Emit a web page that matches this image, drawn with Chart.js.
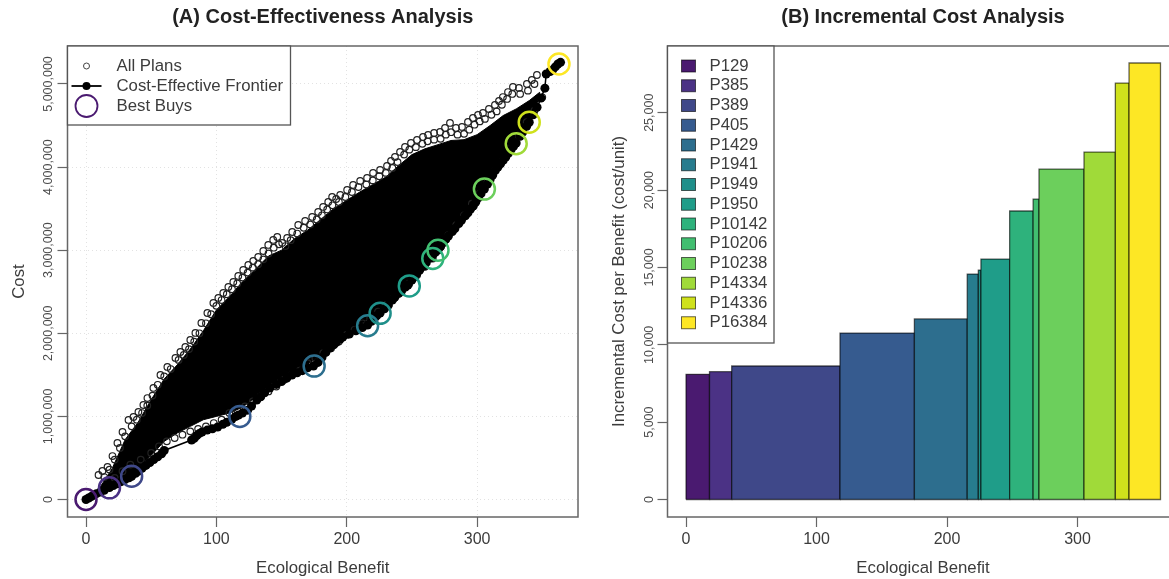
<!DOCTYPE html>
<html>
<head>
<meta charset="utf-8">
<title>Cost-Effectiveness and Incremental Cost Analysis</title>
<script src="https://cdn.jsdelivr.net/npm/chart.js@4"></script>
<style>
    html, body { margin: 0; padding: 0; background: #fff; overflow: hidden; }
    body { width: 1169px; height: 579px; position: relative; }
    canvas { position: absolute; top: 0; }
    #chartA { left: 0; }
    #chartB { left: 600px; }
</style>
</head>
<body>
<canvas id="chartA" width="616" height="579"></canvas>
<canvas id="chartB" width="646" height="579"></canvas>
<script>
// Noms des plans (legende B)
const planNames = ["P129", "P385", "P389", "P405", "P1429", "P1941", "P1949", "P1950", "P10142", "P10206", "P10238", "P14334", "P14336", "P16384"];
const planColors = ["#4a1a70", "#4b3285", "#3f4889", "#365b8f", "#2d6e8e", "#277c8e", "#1f8f8a", "#1f9d89", "#2eb27c", "#41be70", "#6ccf5c", "#a0da39", "#cfe11c", "#fde725"];

// Best buys (graphique A)
const bestBenefit = [0, 18, 35, 118, 175, 216, 225.6, 248, 266, 270, 305.6, 330, 340, 362.8];
const bestCost = [0, 140000, 280000, 1000000, 1605000, 2090000, 2240000, 2570000, 2900000, 3000000, 3735000, 4280000, 4540000, 5240000];

// Frontiere cout-efficace
const frontierBenefit = [0, 2, 4, 6, 8, 11, 14, 18, 21, 24, 27, 30, 33, 35, 38, 40, 43, 46, 49, 52, 55, 58, 60, 81, 83, 85, 87, 89, 93, 97, 101, 105, 108, 112, 115, 117, 120, 124, 127, 131, 134, 137, 141, 146, 150, 154, 158, 162, 166, 170, 174.5, 178, 181, 184, 187, 190, 192, 195, 197, 202, 207, 212, 216, 219, 221, 223, 225.6, 229, 232, 235, 237, 240, 242, 245, 247, 250, 252, 254, 256, 259, 261, 264, 266, 268, 270, 272, 274, 276, 278, 281, 283, 286, 288, 291, 293, 295, 297, 299, 301, 303, 305.6, 308, 310, 312, 314, 316, 318, 320, 322, 324, 326, 328, 330, 333, 335, 338, 340, 343, 346, 349, 352, 353, 356, 358, 360, 362, 364];
const frontierCost = [0, 18000, 35000, 52000, 70000, 90000, 110000, 145000, 168000, 190000, 215000, 240000, 262000, 280000, 315000, 340000, 375000, 410000, 445000, 480000, 515000, 550000, 590000, 716000, 735000, 770000, 795000, 812000, 835000, 852000, 872000, 905000, 930000, 968000, 1000000, 1017000, 1040000, 1075000, 1125000, 1197000, 1235000, 1285000, 1342000, 1385000, 1420000, 1460000, 1498000, 1525000, 1550000, 1585000, 1606000, 1650000, 1710000, 1770000, 1823000, 1860000, 1890000, 1930000, 1955000, 1990000, 2030000, 2070000, 2100000, 2145000, 2170000, 2210000, 2244000, 2295000, 2340000, 2400000, 2437000, 2480000, 2510000, 2555000, 2581000, 2640000, 2680000, 2725000, 2762000, 2810000, 2850000, 2905000, 2942000, 2975000, 3000000, 3045000, 3090000, 3130000, 3170000, 3225000, 3260000, 3320000, 3360000, 3415000, 3450000, 3495000, 3530000, 3580000, 3630000, 3680000, 3735000, 3795000, 3850000, 3905000, 3960000, 4000000, 4040000, 4080000, 4120000, 4165000, 4210000, 4250000, 4290000, 4370000, 4420000, 4490000, 4540000, 4630000, 4720000, 4830000, 4950000, 5120000, 5150000, 5170000, 5205000, 5240000, 5260000];

// Tous les plans : seuls les bords du nuage sont lisibles sur l'image
const planBenefit = [
    9.6, 12.6, 16.5, 20.3, 24.1, 28, 32.6, 36.4, 40.2, 44, 47.1, 51.7, 57.1, 62.4, 68.6, 72.4, 76.2, 80, 83.9, 88.5, 93.1, 97.7, 101.5, 105.3, 109.2, 113, 116.8, 120.6, 124.5, 128.3, 132.1, 136, 139.8, 143.6, 146.7, 150.5, 154.3, 158.2, 162.8, 168.1, 173.5, 178.1, 181.9, 185.8, 188.8, 191.9, 195, 200.3, 204.9, 210.3, 215.6, 220.2, 225.6, 230.9, 234, 237, 240.9, 244.7, 249.3, 253.9, 258.5, 262.4, 267, 271.6, 275.4, 279.2, 283.8, 288.4, 293, 296.8, 300.7, 304.5, 309.1, 313.7, 316.8, 319.8, 323.7, 327.5, 332.1, 338.2, 342, 345.9,
    14, 18, 22, 26, 30, 35, 39, 43, 47, 51, 55, 60, 65, 71, 75, 79, 83, 87, 92, 96, 100, 104, 108, 112, 116, 120, 124, 128, 132, 136, 140, 144, 148, 153, 157, 162, 167, 172, 177, 181, 185, 189, 194, 199, 204, 209, 215, 220, 225, 230, 235, 239, 244, 248, 253, 258, 262, 267, 272, 276, 280, 285, 290, 294, 298, 302, 306, 311, 315, 319, 323, 327, 333, 339, 344,
    22, 28, 34, 42, 50, 56, 62, 68, 74, 80, 86, 92, 98, 104, 110, 116, 122, 128, 134, 140, 146, 152, 158, 164, 170, 176, 182, 188, 194, 200, 206, 212, 218, 224, 230, 236, 242, 248, 254, 260, 266, 272, 278, 284, 290, 296, 302, 308, 314, 320, 326, 332, 338, 344, 350
];
const planCost = [
    295000, 343000, 391000, 523000, 680000, 812000, 957000, 993000, 1053000, 1137000, 1221000, 1342000, 1498000, 1595000, 1703000, 1775000, 1835000, 1919000, 2004000, 2124000, 2244000, 2365000, 2425000, 2485000, 2557000, 2617000, 2690000, 2762000, 2822000, 2870000, 2918000, 2990000, 3063000, 3123000, 3159000, 3087000, 3147000, 3219000, 3303000, 3351000, 3400000, 3460000, 3520000, 3580000, 3640000, 3616000, 3664000, 3724000, 3785000, 3833000, 3869000, 3929000, 3965000, 4013000, 4074000, 4122000, 4182000, 4242000, 4290000, 4326000, 4362000, 4386000, 4411000, 4423000, 4471000, 4531000, 4471000, 4483000, 4543000, 4591000, 4627000, 4651000, 4699000, 4747000, 4795000, 4843000, 4903000, 4964000, 4952000, 5000000, 5048000, 5108000,
    270000, 360000, 480000, 620000, 760000, 880000, 960000, 1040000, 1130000, 1250000, 1380000, 1480000, 1570000, 1680000, 1740000, 1810000, 1900000, 2000000, 2120000, 2230000, 2330000, 2400000, 2470000, 2530000, 2600000, 2670000, 2730000, 2790000, 2830000, 2890000, 2960000, 3030000, 3070000, 3050000, 3120000, 3200000, 3270000, 3310000, 3370000, 3420000, 3490000, 3540000, 3580000, 3640000, 3700000, 3760000, 3790000, 3840000, 3890000, 3930000, 3990000, 4060000, 4150000, 4210000, 4240000, 4280000, 4310000, 4330000, 4340000, 4390000, 4420000, 4390000, 4400000, 4450000, 4510000, 4550000, 4580000, 4630000, 4670000, 4750000, 4820000, 4880000, 4880000, 4920000, 5000000,
    260000, 340000, 420000, 480000, 560000, 640000, 700000, 740000, 780000, 820000, 850000, 880000, 920000, 960000, 1040000, 1080000, 1120000, 1180000, 1240000, 1300000, 1360000, 1440000, 1500000, 1550000, 1640000, 1700000, 1760000, 1820000, 1900000, 1980000, 2040000, 2120000, 2180000, 2260000, 2340000, 2420000, 2500000, 2600000, 2700000, 2800000, 2900000, 3040000, 3180000, 3300000, 3420000, 3560000, 3680000, 3820000, 3960000, 4080000, 4220000, 4380000, 4540000, 4680000, 4840000
];

// Coeur noir du nuage (contour estime)
const coreBenefit = [10, 20, 30, 40, 50, 60, 70, 80, 90, 100, 110, 120, 130, 140, 150, 160, 170, 180, 190, 200, 210, 220, 230, 240, 250, 260, 270, 280, 290, 300, 310, 320, 330, 340, 348, 345, 340, 330, 320, 310, 300, 290, 280, 270, 260, 250, 240, 230, 220, 210, 200, 190, 180, 170, 160, 150, 140, 130, 120, 110, 100, 90, 80, 70, 60, 50, 40, 30, 20];
const coreCost = [130000, 370000, 720000, 930000, 1200000, 1450000, 1620000, 1810000, 2030000, 2280000, 2440000, 2620000, 2770000, 2930000, 3000000, 3140000, 3240000, 3370000, 3500000, 3600000, 3700000, 3790000, 3880000, 4020000, 4150000, 4220000, 4270000, 4320000, 4330000, 4390000, 4500000, 4620000, 4700000, 4800000, 4900000, 4700000, 4570000, 4330000, 4120000, 3890000, 3650000, 3440000, 3250000, 3040000, 2870000, 2680000, 2530000, 2360000, 2210000, 2100000, 2020000, 1900000, 1730000, 1630000, 1550000, 1470000, 1370000, 1230000, 1110000, 1040000, 1000000, 960000, 880000, 800000, 700000, 530000, 380000, 270000, 180000];

// Analyse incrementale (graphique B)
const barEdges = [0, 18, 35, 118, 175, 215.5, 224, 226, 248, 266, 270.5, 305, 329, 339.5, 363.6];
const barHeights = [8090, 8260, 8630, 10760, 11670, 14570, 14830, 15540, 18650, 19420, 21360, 22460, 26920, 28215];

// Graduations
const benefitTicks = [0, 100, 200, 300];
const costTicks = [0, 1000000, 2000000, 3000000, 4000000, 5000000];
const incrementTicks = [0, 5000, 10000, 15000, 20000, 25000];

const FONT = "'Liberation Sans', Arial, sans-serif";
const TEXT_COLOR = "#3c3c3c";
const AXIS_COLOR = "#666666";

function toPoints(xs, ys) {
    return xs.map((x, i) => ({ x: x, y: ys[i] }));
}

// Cadre complet autour de la zone de trace
const panelBox = {
    id: "panelBox",
    afterDatasetsDraw(chart) {
        const a = chart.chartArea;
        const ctx = chart.ctx;
        ctx.save();
        ctx.strokeStyle = AXIS_COLOR;
        ctx.lineWidth = 1.5;
        ctx.strokeRect(a.left, a.top, a.right - a.left, a.bottom - a.top);
        ctx.restore();
    }
};

// Legende encadree dans le coin haut gauche, comme dans R
const cornerLegend = {
    id: "cornerLegend",
    afterDraw(chart, args, opts) {
        const a = chart.chartArea;
        const ctx = chart.ctx;
        ctx.save();
        ctx.fillStyle = "#fff";
        ctx.fillRect(a.left, a.top, opts.width, opts.height);
        ctx.strokeStyle = "#555";
        ctx.lineWidth = 1.3;
        ctx.strokeRect(a.left, a.top, opts.width, opts.height);
        ctx.font = "16.8px " + FONT;
        ctx.textBaseline = "middle";
        opts.items.forEach((item, i) => {
            const y = a.top + opts.firstRow + i * opts.rowStep;
            const x = a.left + opts.symbolX;
            item.draw(ctx, x, y);
            ctx.fillStyle = TEXT_COLOR;
            ctx.textAlign = "left";
            ctx.fillText(item.text, a.left + opts.textX, y);
        });
        ctx.restore();
    }
};

function axisScale(title, min, max, tickValues, opts) {
    const horizontal = opts.horizontal;
    return {
        type: "linear",
        min: min,
        max: max,
        afterBuildTicks: scale => { scale.ticks = tickValues.map(v => ({ value: v })); },
        afterFit: scale => {
            if (horizontal) scale.height = 62;
            else scale.width = 67.5;
        },
        border: { display: false, dash: [1, 3] },
        grid: {
            display: true,
            drawOnChartArea: opts.gridLines,
            color: "#e2e2e2",
            lineWidth: 1,
            tickColor: AXIS_COLOR,
            tickLength: 10,
            tickWidth: 1.2,
            tickBorderDash: []
        },
        ticks: horizontal ? {
            autoSkip: false,
            maxRotation: 0,
            padding: 3,
            color: TEXT_COLOR,
            font: { family: FONT, size: 16 }
        } : {
            autoSkip: false,
            minRotation: 90,
            maxRotation: 90,
            crossAlign: "center",
            padding: opts.tickPadding,
            color: "#4a4a4a",
            font: { family: FONT, size: 12.5 },
            callback: v => v.toLocaleString("en-US")
        },
        title: {
            display: true,
            text: title,
            color: TEXT_COLOR,
            font: { family: FONT, size: 16.8 },
            padding: horizontal ? { top: 0, bottom: 1 } : { top: 9, bottom: 0 }
        }
    };
}

function panelTitle(text) {
    return {
        display: true,
        fullSize: false,
        text: text,
        color: "#222",
        font: { family: FONT, size: 20, weight: "bold" },
        padding: { top: 5, bottom: 17 }
    };
}

// ============================================================
// A. COST-EFFECTIVENESS
// ============================================================

new Chart(document.getElementById("chartA"), {
    type: "scatter",
    data: {
        datasets: [
            {
                label: "Best Buys",
                data: toPoints(bestBenefit, bestCost),
                order: 0,
                pointStyle: "circle",
                pointRadius: 10.5,
                pointBorderWidth: 2.5,
                pointBackgroundColor: "transparent",
                pointBorderColor: planColors
            },
            {
                label: "Cost-Effective Frontier",
                data: toPoints(frontierBenefit, frontierCost),
                order: 1,
                showLine: true,
                borderColor: "#000",
                borderWidth: 1.5,
                pointRadius: 4.5,
                pointBorderWidth: 0,
                pointBackgroundColor: "#000"
            },
            {
                label: "All Plans",
                data: toPoints(planBenefit, planCost),
                order: 2,
                pointRadius: 3.3,
                pointBorderWidth: 1.2,
                pointBackgroundColor: "transparent",
                pointBorderColor: "#222"
            },
            {
                label: "core",
                data: toPoints(coreBenefit, coreCost),
                order: 3,
                showLine: true,
                fill: "shape",
                backgroundColor: "#000",
                borderColor: "#000",
                borderWidth: 1,
                pointRadius: 0
            }
        ]
    },
    options: {
        responsive: false,
        animation: false,
        layout: { padding: { right: 38 } },
        scales: {
            x: axisScale("Ecological Benefit", -14.2, 377.4, benefitTicks, { horizontal: true, gridLines: true }),
            y: axisScale("Cost", -210600, 5457000, costTicks, { horizontal: false, gridLines: true, tickPadding: -18.8 })
        },
        plugins: {
            legend: { display: false },
            tooltip: { enabled: false },
            title: panelTitle("(A) Cost-Effectiveness Analysis"),
            cornerLegend: {
                width: 223,
                height: 79,
                firstRow: 20,
                rowStep: 20,
                symbolX: 19,
                textX: 49,
                items: [
                    {
                        text: "All Plans",
                        draw(ctx, x, y) {
                            ctx.strokeStyle = "#444";
                            ctx.lineWidth = 1;
                            ctx.beginPath();
                            ctx.arc(x, y, 3, 0, Math.PI * 2);
                            ctx.stroke();
                        }
                    },
                    {
                        text: "Cost-Effective Frontier",
                        draw(ctx, x, y) {
                            ctx.strokeStyle = "#000";
                            ctx.lineWidth = 1.8;
                            ctx.beginPath();
                            ctx.moveTo(x - 15, y);
                            ctx.lineTo(x + 15, y);
                            ctx.stroke();
                            ctx.fillStyle = "#000";
                            ctx.beginPath();
                            ctx.arc(x, y, 4, 0, Math.PI * 2);
                            ctx.fill();
                        }
                    },
                    {
                        text: "Best Buys",
                        draw(ctx, x, y) {
                            ctx.strokeStyle = planColors[0];
                            ctx.lineWidth = 1.8;
                            ctx.beginPath();
                            ctx.arc(x, y, 11, 0, Math.PI * 2);
                            ctx.stroke();
                        }
                    }
                ]
            }
        }
    },
    plugins: [panelBox, cornerLegend]
});

// ============================================================
// B. INCREMENTAL COST
// ============================================================

// Chaque barre a sa propre largeur : un polygone ferme par plan
const barDatasets = barHeights.map((h, i) => ({
    label: planNames[i],
    data: toPoints(
        [barEdges[i], barEdges[i], barEdges[i + 1], barEdges[i + 1], barEdges[i]],
        [0, h, h, 0, 0]
    ),
    order: barHeights.length - i,
    showLine: true,
    fill: "shape",
    tension: 0,
    backgroundColor: planColors[i],
    borderColor: "rgba(0, 0, 0, 0.6)",
    borderWidth: 1.3,
    pointRadius: 0
}));

new Chart(document.getElementById("chartB"), {
    type: "scatter",
    data: { datasets: barDatasets },
    options: {
        responsive: false,
        animation: false,
        layout: { padding: { right: 67.5 } },
        scales: {
            x: axisScale("Ecological Benefit", -14.2, 377.4, benefitTicks, { horizontal: true, gridLines: false }),
            y: axisScale("Incremental Cost per Benefit (cost/unit)", -1131, 29315, incrementTicks, { horizontal: false, gridLines: false, tickPadding: -11.6 })
        },
        plugins: {
            legend: { display: false },
            tooltip: { enabled: false },
            title: panelTitle("(B) Incremental Cost Analysis"),
            cornerLegend: {
                width: 106.5,
                height: 297,
                firstRow: 20,
                rowStep: 19.75,
                symbolX: 21,
                textX: 42,
                items: planNames.map((name, i) => ({
                    text: name,
                    draw(ctx, x, y) {
                        ctx.fillStyle = planColors[i];
                        ctx.fillRect(x - 7, y - 6, 14, 12);
                        ctx.strokeStyle = "rgba(0, 0, 0, 0.6)";
                        ctx.lineWidth = 1;
                        ctx.strokeRect(x - 7, y - 6, 14, 12);
                    }
                }))
            }
        }
    },
    plugins: [panelBox, cornerLegend]
});
</script>
</body>
</html>
